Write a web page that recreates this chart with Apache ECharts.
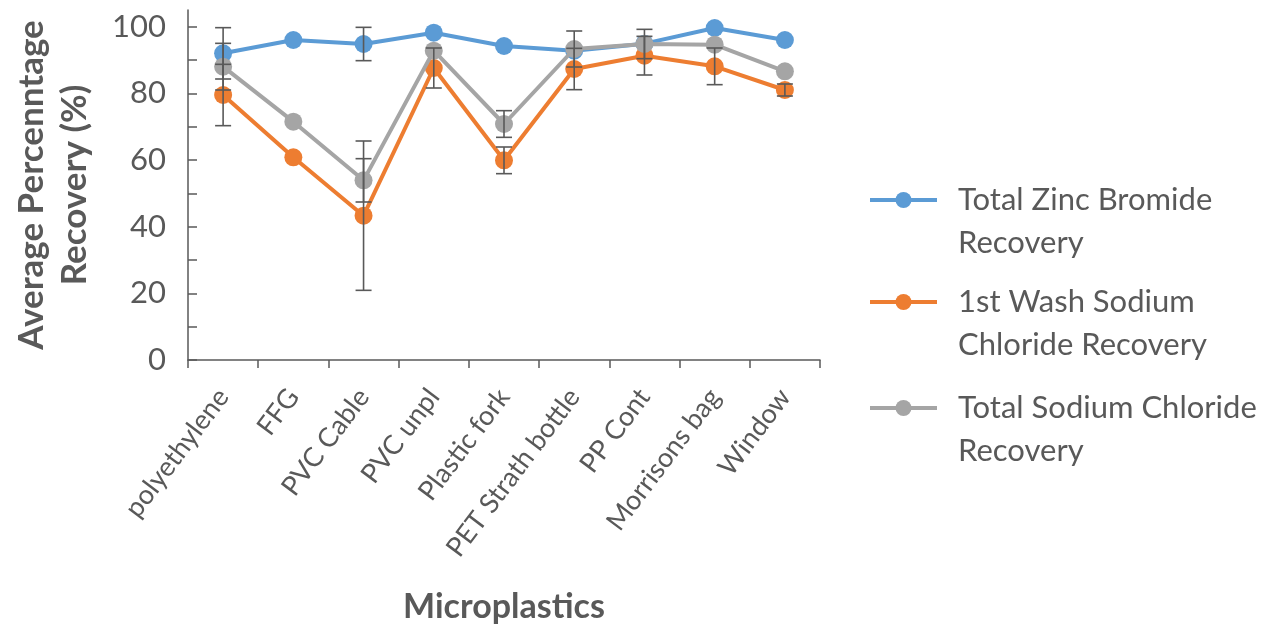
<!DOCTYPE html>
<html>
<head>
<meta charset="utf-8">
<script src="https://cdn.jsdelivr.net/npm/echarts@6/dist/echarts.min.js"></script>
<style>html,body{margin:0;padding:0;background:#fff}#c{width:1277px;height:629px}</style>
</head>
<body>
<div id="c"></div>
<script>
const categories = ['polyethylene','FFG','PVC Cable','PVC unpl','Plastic fork','PET Strath bottle','PP Cont','Morrisons bag','Window'];
const seriesNames = ['Total Zinc Bromide Recovery','1st Wash Sodium Chloride Recovery','Total Sodium Chloride Recovery'];
const legendLabels = ['Total Zinc Bromide\nRecovery','1st Wash Sodium\nChloride Recovery','Total Sodium Chloride\nRecovery'];
const zincBromide = [92, 96, 94.8, 98.2, 94.2, 92.8, 94.9, 99.6, 96];
const firstWashNaCl = [79.5, 60.8, 43.3, 87.6, 59.9, 87.3, 91.3, 88.1, 81];
const totalNaCl = [88, 71.5, 53.9, 92.8, 70.8, 93.3, 94.8, 94.6, 86.6];
const zincBromideErr = [7.7, 0, 5, 0, 0, 0, 0, 0, 0];
const firstWashNaClErr = [9.2, 0, 22.4, 6, 4, 6.2, 5.8, 5.5, 1.8];
const totalNaClErr = [7, 0, 6.5, 0, 4, 5.4, 4.4, 0, 0];
const yTicks = [0,10,20,30,40,50,60,70,80,90,100];
const yLabels = [0,20,40,60,80,100];

const colors = ['#5B9BD5','#ED7D31','#A5A5A5'];
const values = [zincBromide, firstWashNaCl, totalNaCl];
const errs = [zincBromideErr, firstWashNaClErr, totalNaClErr];
const textColor = '#595959';
const FONT = 'Lato';

const lineSeries = values.map((v, k) => ({
  name: seriesNames[k],
  type: 'line',
  data: v,
  symbol: 'circle',
  symbolSize: 18,
  lineStyle: {width: 4, color: colors[k]},
  itemStyle: {color: colors[k]},
  z: 2 + k
}));

const errSeries = values.map((v, k) => ({
  name: seriesNames[k] + ' err',
  type: 'custom',
  z: 10,
  silent: true,
  data: v.map((y, i) => [i, y - errs[k][i], y + errs[k][i]]).filter((d, i) => errs[k][i] > 0),
  encode: {x: 0, y: [1, 2]},
  renderItem: function (params, api) {
    const lo = api.coord([api.value(0), api.value(1)]);
    const hi = api.coord([api.value(0), api.value(2)]);
    const hw = 8;
    const st = {stroke: '#595959', lineWidth: 1.6};
    return {type: 'group', children: [
      {type: 'line', shape: {x1: lo[0], y1: lo[1], x2: hi[0], y2: hi[1]}, style: st},
      {type: 'line', shape: {x1: hi[0]-hw, y1: hi[1], x2: hi[0]+hw, y2: hi[1]}, style: st},
      {type: 'line', shape: {x1: lo[0]-hw, y1: lo[1], x2: lo[0]+hw, y2: lo[1]}, style: st}
    ]};
  }
}));

const legendTops = [135.5, 237.5, 343.5];
const legends = seriesNames.map((n, k) => ({
  data: [n],
  orient: 'vertical',
  left: 868,
  top: legendTops[k],
  padding: 0,
  itemWidth: 67,
  itemHeight: 20,
  selectedMode: false,
  lineStyle: {width: 4},
  formatter: () => '\n' + legendLabels[k],
  textStyle: {color: textColor, fontFamily: FONT, fontSize: 31, lineHeight: 43, padding: [0, 0, 0, 16]}
}));

const chart = echarts.init(document.getElementById('c'), null, {renderer: 'canvas'});
chart.setOption({
  animation: false,
  backgroundColor: '#fff',
  color: colors,
  legend: legends,
  grid: {left: 188, right: 457, top: 10, bottom: 269, containLabel: false},
  xAxis: {
    type: 'category',
    data: categories,
    boundaryGap: true,
    name: 'Microplastics',
    nameLocation: 'middle',
    nameGap: 230,
    nameTextStyle: {color: textColor, fontFamily: FONT, fontSize: 34, fontWeight: 'bold'},
    axisLine: {lineStyle: {color: '#595959', width: 1.5}},
    axisTick: {show: true, inside: false, length: 8, lineStyle: {color: '#595959', width: 1.5}},
    axisLabel: {rotate: 53, color: textColor, fontFamily: FONT, fontSize: 27, margin: 32, interval: 0}
  },
  yAxis: {
    type: 'value',
    min: 0,
    max: 105,
    interval: 10,
    name: 'Average Percenntage\nRecovery (%)',
    nameLocation: 'middle',
    nameGap: 92,
    nameTextStyle: {color: textColor, fontFamily: FONT, fontSize: 35, fontWeight: 'bold', lineHeight: 43},
    splitLine: {show: false},
    axisLine: {show: true, lineStyle: {color: '#595959', width: 1.5}},
    axisTick: {show: true, inside: true, length: 9, customValues: yTicks, lineStyle: {color: '#595959', width: 1.5}},
    axisLabel: {customValues: yLabels, color: textColor, fontFamily: FONT, fontSize: 31, margin: 22}
  },
  series: lineSeries.concat(errSeries)
});
</script>
</body>
</html>
